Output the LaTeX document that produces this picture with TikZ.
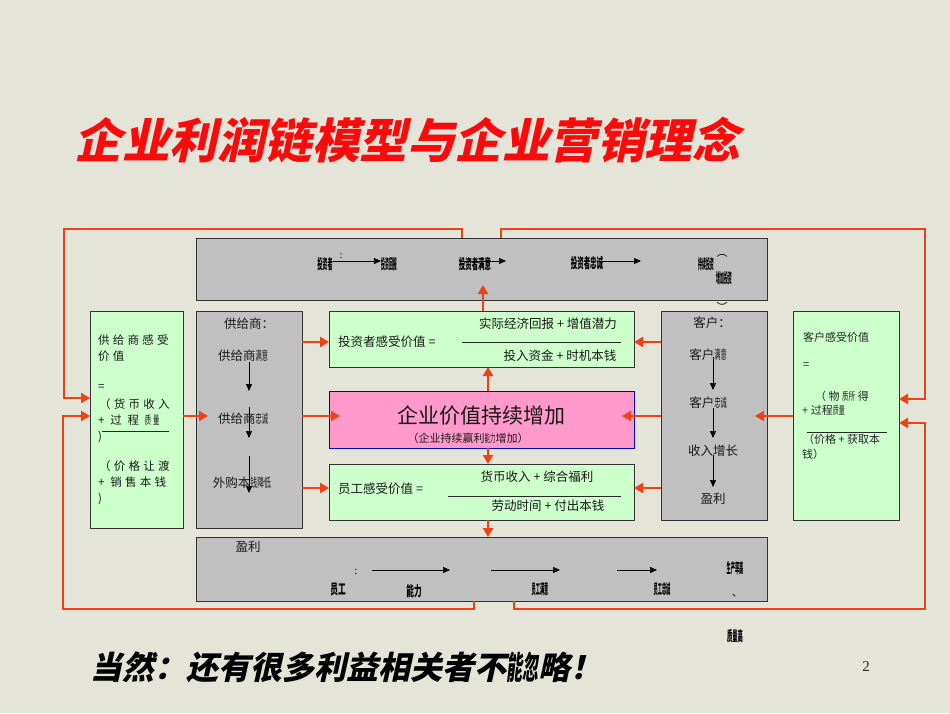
\documentclass[tikz,border=0pt]{standalone}
\usepackage{graphicx}
\usepackage{fontspec}
\setmainfont{Noto Sans CJK SC}
\newfontfamily\slfont{Noto Sans CJK SC}[FakeSlant=0.22]
\newfontfamily\numfont{Liberation Serif}
\newfontfamily\lsfont{Noto Sans CJK SC}[LetterSpace=28]
\usetikzlibrary{arrows.meta}
\definecolor{bg}{RGB}{229,228,217}
\definecolor{redl}{RGB}{238,66,20}
\definecolor{gfill}{RGB}{204,255,204}
\definecolor{grayf}{RGB}{192,192,192}
\definecolor{pinkf}{RGB}{255,153,204}
\definecolor{titlered}{RGB}{250,10,10}
\newcommand\squeezeit[2]{\scalebox{#1}[1]{#2}}
\begin{document}
\begin{tikzpicture}[x=1pt,y=-1pt,
  boxbase/.style={draw=black!80, line width=0.9pt, inner sep=0pt, outer sep=0pt, anchor=north west},
  gbox/.style={boxbase, fill=gfill},
  graybox/.style={boxbase, fill=grayf},
  rl/.style={draw=redl, line width=2.6pt},
  ra/.style={rl, -{Triangle[length=9pt,width=10pt]}},
  ka/.style={draw=black, line width=0.7pt, -{Triangle[length=7pt,width=6pt]}},
  txt/.style={inner sep=0pt, text=black!90, font=\fontsize{12.5}{14}\selectfont},
  stxt/.style={inner sep=0pt, text=black!85, font=\fontsize{11}{13}\selectfont},
  lstxt/.style={inner sep=0pt, anchor=west, text=black!90, font=\lsfont\fontsize{11.5}{13}\selectfont},
  btxt/.style={inner sep=0pt, text=black, font=\bfseries\fontsize{14}{15}\selectfont},
  fracline/.style={draw=black!85, line width=0.8pt}
]
\fill[bg] (0,0) rectangle (950,713);
\useasboundingbox (0,0) rectangle (950,713);

% title
\node[inner sep=0pt, text=titlered, font=\slfont\bfseries\fontsize{47.5}{50}\selectfont] (title) at (407,140) {企业利润链模型与企业营销理念};

% boxes
\node[graybox, minimum width=571pt, minimum height=62pt] (topband) at (196,238) {};
\node[gbox, minimum width=93pt, minimum height=217pt] (lg) at (90,311) {};
\node[graybox, minimum width=106pt, minimum height=217pt] (sup) at (196,311) {};
\node[gbox, minimum width=305pt, minimum height=56pt] (inv) at (329,311) {};
\node[boxbase, fill=pinkf, draw=blue!75!black, minimum width=305pt, minimum height=57pt] (pink) at (329,391) {};
\node[gbox, minimum width=305pt, minimum height=56pt] (emp) at (329,464) {};
\node[graybox, minimum width=106pt, minimum height=209pt] (cust) at (661,311) {};
\node[gbox, minimum width=106pt, minimum height=209pt] (rg) at (793,311) {};
\node[graybox, minimum width=571pt, minimum height=64pt] (botband) at (196,537) {};

% red loops
\draw[ra] (topband.north -| 462,0) -- ++(0,-9) -| (64,398) -- (lg.west |- 0,398);
\draw[ra] (topband.north -| 501,0) -- ++(0,-9) -| (925,399) -- (rg.east |- 0,399);
\draw[ra] (botband.south -| 474,0) -- ++(0,8) -| (63,416) -- (lg.west |- 0,416);
\draw[ra] (botband.south -| 514,0) -- ++(0,8) -| (925,423) -- (rg.east |- 0,423);

% red arrows
\coordinate (supin) at (208,416);
\draw[ra] (lg.east |- 0,416) -- (supin);
\draw[ra] (sup.east |- 0,342) -- (inv.west |- 0,342);
\coordinate (pinkinL) at (340,416);
\draw[ra] (sup.east |- 0,416) -- (pinkinL);
\draw[ra] (sup.east |- 0,488) -- (emp.west |- 0,488);
\draw[ra] (cust.west |- 0,342) -- (inv.east |- 0,342);
\coordinate (pinkinR) at (622,416);
\draw[ra] (cust.west |- 0,416) -- (pinkinR);
\draw[ra] (cust.west |- 0,488) -- (emp.east |- 0,488);
\coordinate (bandin) at (483,285);
\draw[ra] (inv.north -| 483,0) -- (bandin);
\draw[ra] (pink.north -| 488,0) -- (inv.south -| 488,0);
\draw[ra] (pink.south -| 488,0) -- (emp.north -| 488,0);
\draw[ra] (emp.south -| 488,0) -- (botband.north -| 488,0);
\coordinate (custin) at (755,416);
\draw[ra] (rg.west |- 0,416) -- (custin);

% top band texts
\node[btxt] (t1) at (325,264) {\squeezeit{0.36}{投资者}};
\node[inner sep=0pt, font=\fontsize{9}{9}\selectfont] (tc) at (341,256) {:};
\node[btxt] (t2) at (389,264) {\squeezeit{0.28}{投资回报}};
\draw[ka] (t1.east |- 0,261) -- (t2.west |- 0,261);
\node[btxt] (t3) at (475,264) {\squeezeit{0.46}{投资者满意}};
\coordinate (a3s) at (460,261); \coordinate (a3e) at (506,261);
\draw[ka] (a3s) -- (a3e);
\node[btxt] (t4) at (587,263) {\squeezeit{0.46}{投资者忠诚}};
\coordinate (a4s) at (597,261); \coordinate (a4e) at (641,261);
\draw[ka] (a4s) -- (a4e);
\node[btxt] (t5) at (706,264) {\squeezeit{0.28}{持续投资}};
\node[inner sep=0pt, font=\fontsize{11}{11}\selectfont] (tp1) at (722,256) {︵};
\node[btxt] (t6) at (724,278) {\squeezeit{0.28}{增加投资}};
\node[inner sep=0pt, font=\fontsize{11}{11}\selectfont] (tp2) at (722,307) {︶};

% bottom band texts
\node[txt] (b0) at (248,547) {盈利};
\node[inner sep=0pt, font=\fontsize{10}{10}\selectfont] (bc) at (356,572) {:};
\node[btxt] (b1) at (338,590) {\squeezeit{0.55}{员工}};
\coordinate (ba1s) at (372,570); \coordinate (ba1e) at (450,570);
\draw[ka] (ba1s) -- (ba1e);
\node[btxt] (b2) at (414,591) {\squeezeit{0.55}{能力}};
\coordinate (ba2s) at (491,570); \coordinate (ba2e) at (560,570);
\draw[ka] (ba2s) -- (ba2e);
\node[btxt] (b3) at (540,589) {\squeezeit{0.3}{员工满意}};
\coordinate (ba3s) at (617,570); \coordinate (ba3e) at (657,570);
\draw[ka] (ba3s) -- (ba3e);
\node[btxt] (b4) at (662,589) {\squeezeit{0.3}{员工忠诚}};
\node[btxt] (b5) at (735,568) {\squeezeit{0.3}{生产率高}};
\node[inner sep=0pt, font=\fontsize{10}{10}\selectfont] (b6) at (737,596) {、};
\node[btxt] (b7) at (735,636) {\squeezeit{0.38}{质量高}};

% left green box
\node[lstxt] (l1) at (98,340) {供给商感受};
\node[lstxt] (l2) at (98,356) {价值};
\node[lstxt] (l3) at (98,387) {=};
\node[lstxt] (l4) at (99,404) {（货币收入};
\node[lstxt] (l5) at (98,420) {+ 过 程 \squeezeit{0.55}{质量}};
\node[lstxt] (l6) at (98,437) {)};
\draw[fracline] (102,431) -- (169,431);
\node[lstxt] (l7) at (99,466) {（价格让渡};
\node[lstxt] (l8) at (98,482) {+ 销售本钱};
\node[lstxt] (l9) at (98,499) {)};

% supplier box
\node[txt] (s0) at (249,324) {供给商：};
\node[txt] (s1) at (243,356) {供给商\squeezeit{0.5}{满意}};
\node[txt] (s2) at (243,419) {供给商\squeezeit{0.5}{忠诚}};
\node[txt] (s3) at (242,483) {外购本\squeezeit{0.55}{钱降低}};
\coordinate (sa1e) at (249,391);
\draw[ka] (s1.south -| 249,0) -- (sa1e);
\coordinate (sa2s) at (249,407); \coordinate (sa2e) at (249,438);
\draw[ka] (sa2s) -- (sa2e);
\coordinate (sa3s) at (249,456); \coordinate (sa3e) at (249,493);
\draw[ka] (sa3s) -- (sa3e);

% investor box
\node[txt, anchor=west] (i0) at (338,342) {投资者感受价值 =};
\node[txt] (i1) at (548,324) {实际经济回报 + 增值潜力};
\draw[fracline] (462,342) -- (621,342);
\node[txt] (i2) at (560,356) {投入资金 + 时机本钱};

% pink box
\node[inner sep=0pt, text=black!90, font=\fontsize{21}{23}\selectfont] (p0) at (481,415) {企业价值持续增加};
\node[inner sep=0pt, text=black!90, font=\fontsize{11}{12}\selectfont] (p1) at (468,438) {（企业持续赢利\squeezeit{0.5}{能力}增加）};

% employee box
\node[txt, anchor=west] (e0) at (338,489) {员工感受价值 =};
\node[txt] (e1) at (537,477) {货币收入 + 综合福利};
\draw[fracline] (448,496) -- (621,496);
\node[txt] (e2) at (548,506) {劳动时间 + 付出本钱};

% customer box
\node[txt] (c0) at (712,323) {客户：};
\node[txt] (c1) at (708,355) {客户\squeezeit{0.5}{满意}};
\node[txt] (c2) at (708,403) {客户\squeezeit{0.5}{忠诚}};
\node[txt] (c3) at (713,451) {收入增长};
\node[txt] (c4) at (713,499) {盈利};
\coordinate (ca1s) at (713,357); \coordinate (ca1e) at (713,390);
\draw[ka] (ca1s) -- (ca1e);
\coordinate (ca2s) at (713,408); \coordinate (ca2e) at (713,438);
\draw[ka] (ca2s) -- (ca2e);
\coordinate (ca3s) at (713,455); \coordinate (ca3e) at (713,487);
\draw[ka] (ca3s) -- (ca3e);

% right green box
\node[stxt, anchor=west] (r1) at (803,337) {客户感受价值};
\node[stxt, anchor=west] (r2) at (803,366) {=};
\node[stxt, anchor=west] (r3) at (815,396) {（\ 物\ \squeezeit{0.6}{质所}\ 得};
\node[stxt, anchor=west] (r4) at (802,410) {+ 过程\squeezeit{0.55}{质量}};
\draw[fracline] (807,432) -- (887,432);
\node[stxt, anchor=west] (r5) at (803,439) {（价格 + 获取本};
\node[stxt, anchor=west] (r6) at (802,454) {钱）};

% footer
\node[inner sep=0pt, anchor=west, text=black, font=\slfont\bfseries\fontsize{32}{34}\selectfont] (foot) at (90,667) {当然：还有很多利益相关者不\squeezeit{0.5}{能忽}略！};
\node[inner sep=0pt, text=black!85, font=\numfont\fontsize{15}{16}\selectfont] (pg) at (866,667) {2};
\end{tikzpicture}
\end{document}
